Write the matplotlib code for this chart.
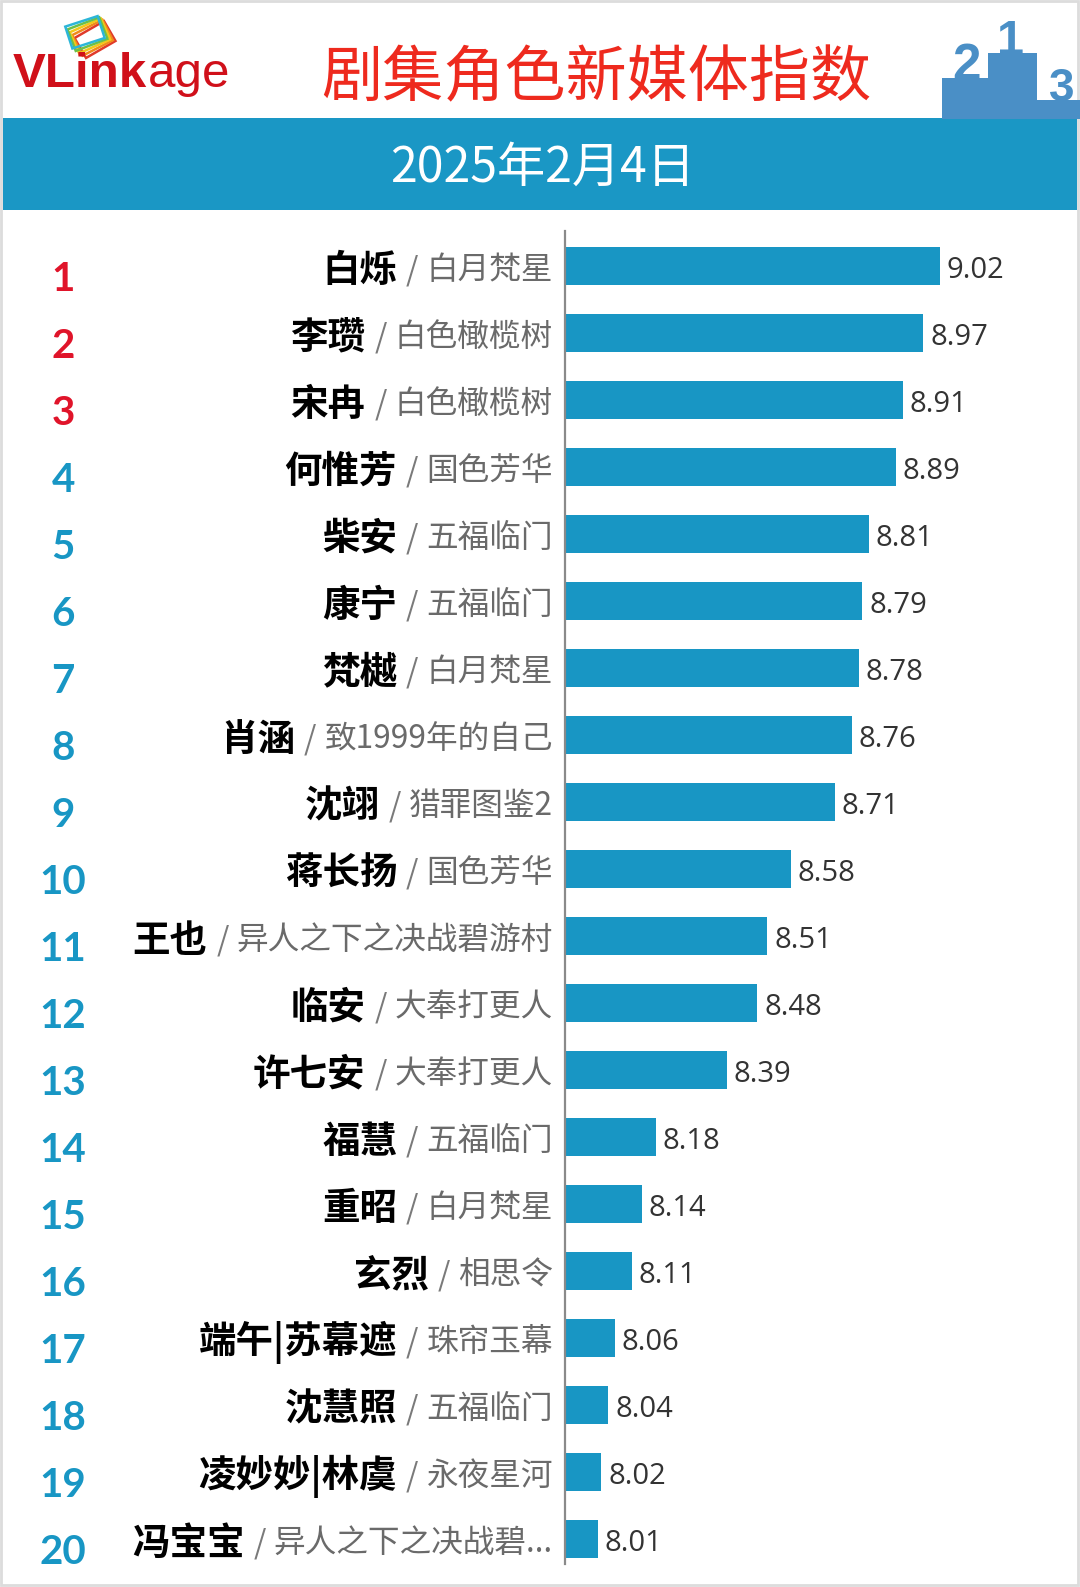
import matplotlib
matplotlib.use("Agg")
import matplotlib.pyplot as plt
from matplotlib import transforms
from matplotlib.patches import Rectangle

plt.rcParams['font.family'] = ['Noto Sans CJK SC', 'DejaVu Sans']

# data
ranks = list(range(1, 21))
roles = ["白烁", "李瓒", "宋冉", "何惟芳", "柴安", "康宁", "梵樾", "肖涵", "沈翊", "蒋长扬",
         "王也", "临安", "许七安", "福慧", "重昭", "玄烈", "端午|苏幕遮", "沈慧照", "凌妙妙|林虞", "冯宝宝"]
shows = ["白月梵星", "白色橄榄树", "白色橄榄树", "国色芳华", "五福临门", "五福临门", "白月梵星",
         "致1999年的自己", "猎罪图鉴2", "国色芳华", "异人之下之决战碧游村", "大奉打更人", "大奉打更人",
         "五福临门", "白月梵星", "相思令", "珠帘玉幕", "五福临门", "永夜星河", "异人之下之决战碧..."]
scores = [9.02, 8.97, 8.91, 8.89, 8.81, 8.79, 8.78, 8.76, 8.71, 8.58,
          8.51, 8.48, 8.39, 8.18, 8.14, 8.11, 8.06, 8.04, 8.02, 8.01]
title = "剧集角色新媒体指数"
date = "2025年2月4日"

BLUE = '#1896c4'
RED = '#e0142a'
W, H = 1080, 1587

fig = plt.figure(figsize=(W / 100, H / 100), dpi=100)
fig.patch.set_facecolor('white')

# full-figure layer in pixel coords for header decorations
bg = fig.add_axes([0, 0, 1, 1])
bg.set_xlim(0, W)
bg.set_ylim(H, 0)
bg.axis('off')

bg.add_patch(Rectangle((1, 1), W - 3, H - 3, fill=False, ec='#dcdcdc', lw=2))
bg.add_patch(Rectangle((3, 118), W - 6, 92, color='#1a97c5', lw=0))

# podium
pod = '#4a8fc6'
bg.add_patch(Rectangle((942, 78), 47, 41, color=pod, lw=0))
bg.add_patch(Rectangle((988, 53), 49, 66, color=pod, lw=0))
bg.add_patch(Rectangle((1037, 100), 43, 19, color=pod, lw=0))
bg.text(966, 80, "2", color=pod, fontsize=37, fontweight='bold', ha='center', va='baseline', family='Liberation Sans')
bg.text(1010, 54, "1", color=pod, fontsize=35, fontweight='bold', ha='center', va='baseline', family='Liberation Sans')
bg.text(1062, 101, "3", color=pod, fontsize=33, fontweight='bold', ha='center', va='baseline', family='Liberation Sans')

# logo icon: a stack of rotated frames
for k, c in enumerate(['#e03a2a', '#f08a1a', '#f2c81a', '#6cc04a', '#2cb6d8']):
    bg.add_patch(Rectangle((78 - k * 2.5, 28 - k * 1.8), 34, 23, angle=-30 + k * 3,
                           fill=False, ec=c, lw=1.8, rotation_point='center'))
fig.canvas.draw()
rend = fig.canvas.get_renderer()
lt = bg.text(13, 87, "VLink", color='#d0101a', fontsize=35.5, fontweight='bold', family='Liberation Sans', va='baseline')
x_age = lt.get_window_extent(rend).x1
bg.text(x_age + 1, 87, "age", color='#d0101a', fontsize=35.5, family='Liberation Sans', va='baseline')

bg.text(596, 79, title, color='#ee2a1e', fontsize=44, fontweight='medium', ha='center', va='center')
bg.text(543, 168, date, color='white', fontsize=34.7, fontweight='medium', ha='center', va='center')

# chart
top, bot = 231, 1564
row0, step = 266, 67
base, ppu = 7.9125, 338.6
axl, axr = 565, 1045
ax = fig.add_axes([axl / W, 1 - bot / H, (axr - axl) / W, (bot - top) / H])
ax.set_facecolor('none')
ax.set_ylim((bot - row0) / step, (top - row0) / step)
ax.set_xlim(base, base + (axr - axl) / ppu)
ypos = list(range(len(scores)))
ax.barh(ypos, scores, height=0.57, color=BLUE)
for s in ['top', 'right', 'bottom']:
    ax.spines[s].set_visible(False)
ax.spines['left'].set_color('#8a8a8a')
ax.spines['left'].set_linewidth(1.6)
ax.set_xticks([])
ax.set_yticks([])

for i, v in enumerate(scores):
    ax.annotate(f"{v:.2f}", (v, i + 0.07), xytext=(5, 0), textcoords='offset points',
                va='center', ha='left', fontsize=21, color='#333333', family='Open Sans')

# rank numbers and names
tr = transforms.blended_transform_factory(fig.transFigure, ax.transData)
for i, (r, name, show) in enumerate(zip(ranks, roles, shows)):
    ax.text(63 / W, i + 0.2, str(r), transform=tr, ha='center', va='center', fontsize=29,
            fontweight='bold', color=RED if r <= 3 else BLUE, family='Lato')
    x = 553
    t = ax.text(x / W, i + 0.06, show, transform=tr, ha='right', va='center', fontsize=22.8, color='#6a6a6a')
    x = t.get_window_extent(rend).x0 - 8
    t = ax.text(x / W, i + 0.06, "/", transform=tr, ha='right', va='center', fontsize=22.8, color='#7a7a7a')
    x = t.get_window_extent(rend).x0 - 9
    ax.text(x / W, i + 0.06, name, transform=tr, ha='right', va='center', fontsize=27, fontweight='bold',
            color='black')

fig.savefig("out.png", dpi=100)
